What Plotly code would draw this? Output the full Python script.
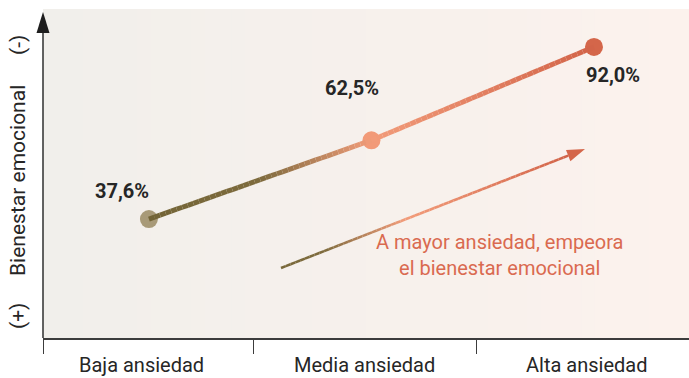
import plotly.graph_objects as go

# Data
categories = ["Baja ansiedad", "Media ansiedad", "Alta ansiedad"]
values = [37.6, 62.5, 92.0]
value_labels = ["37,6%", "62,5%", "92,0%"]
marker_colors = ["#a89a78", "#f29a78", "#d4664a"]

W, H = 689, 378
ML, MR, MT, MB = 43, 0, 9, 40
PW, PH = W - ML - MR, H - MT - MB

X_RANGE = [-0.476, 2.427]
Y_RANGE = [0, 104]

FONT = "Roboto"
TEXT = "#262626"
AXIS = "#3c3c3c"
ACCENT = "#da6a50"

# gradient stops shared by the line and the arrow: olive -> salmon -> coral
STOPS = [(0.0, (0x72, 0x64, 0x36)), (0.25, (0x7e, 0x6b, 0x3d)),
         (0.5, (0xf2, 0x9c, 0x7a)), (1.0, (0xd2, 0x63, 0x48))]


def grad(t):
    for (t0, c0), (t1, c1) in zip(STOPS[:-1], STOPS[1:]):
        if t <= t1:
            f = (t - t0) / (t1 - t0) if t1 > t0 else 0
            return "rgb(%d,%d,%d)" % tuple(round(a + (b - a) * f) for a, b in zip(c0, c1))
    return "rgb(%d,%d,%d)" % STOPS[-1][1]


def px(X):
    return (X - ML) / PW


def py(Y):
    return (MT + PH - Y) / PH


def mix(c0, c1, f):
    return "rgb(%d,%d,%d)" % tuple(round(a + (b - a) * f) for a, b in zip(c0, c1))


shapes = []

# background: soft left-to-right wash behind the plot area
BG_L, BG_R = (0xf1, 0xef, 0xeb), (0xfc, 0xf2, 0xed)
NB = 48
for i in range(NB):
    shapes.append(dict(type="rect", xref="paper", yref="paper",
                       x0=i / NB, x1=(i + 1) / NB + 0.002, y0=0, y1=1,
                       fillcolor=mix(BG_L, BG_R, i / (NB - 1)),
                       line=dict(width=0), layer="below"))


def gradient_polyline(xs, ys, xref, yref, width, steps, t_of):
    out = []
    for (xa, ya), (xb, yb) in zip(zip(xs[:-1], ys[:-1]), zip(xs[1:], ys[1:])):
        for k in range(steps):
            f0, f1 = k / steps, (k + 1) / steps
            x0, y0 = xa + (xb - xa) * f0, ya + (yb - ya) * f0
            x1, y1 = xa + (xb - xa) * f1, ya + (yb - ya) * f1
            out.append(dict(type="line", xref=xref, yref=yref,
                            x0=x0, y0=y0, x1=x1, y1=y1,
                            line=dict(color=grad(t_of((x0 + x1) / 2)), width=width)))
    return out


# main trend line, coloured along its length
xs = list(range(len(categories)))
x_span = xs[-1] - xs[0]
shapes += gradient_polyline(xs, values, "x", "y", 5, 40,
                            lambda x: (x - xs[0]) / x_span)

# explanatory arrow
A0, A1 = (281, 268), (568.2, 155.6)
TIP, B1, B2 = (585, 149), (570.4, 161.2), (566.0, 150.0)
ax0, ax1 = px(A0[0]), px(A1[0])
shapes += gradient_polyline([ax0, ax1], [py(A0[1]), py(A1[1])], "paper", "paper", 2.6, 60,
                            lambda x: 0.12 + 0.88 * (x - ax0) / (ax1 - ax0))
shapes.append(dict(type="path", xref="paper", yref="paper",
                   path="M %f %f L %f %f L %f %f Z" % (px(TIP[0]), py(TIP[1]), px(B1[0]), py(B1[1]),
                                                    px(B2[0]), py(B2[1])),
                   fillcolor="#d4664a", line=dict(width=0)))

# vertical axis with arrowhead
shapes.append(dict(type="line", xref="paper", yref="paper", x0=0, x1=0, y0=0, y1=py(30),
                   line=dict(color=AXIS, width=1.6)))
shapes.append(dict(type="path", xref="paper", yref="paper",
                   path="M %f %f L %f %f L %f %f Z" % (px(43), py(12), px(36.5), py(33), px(49.5), py(33)),
                   fillcolor="#1e1e1e", line=dict(width=0)))

fig = go.Figure()
fig.add_trace(go.Scatter(
    x=xs, y=values, mode="markers",
    marker=dict(size=18, color=marker_colors, line=dict(width=0)),
    hoverinfo="skip", showlegend=False,
))

annotations = []
label_offsets = [(-27, 28), (-19, 52), (19, -28)]
for x, v, lab, (dx, dy) in zip(xs, values, value_labels, label_offsets):
    annotations.append(dict(x=x, y=v, xref="x", yref="y", text="<b>%s</b>" % lab,
                            showarrow=False, xshift=dx, yshift=dy,
                            xanchor="center", yanchor="middle",
                            font=dict(family=FONT, size=20, color=TEXT)))

for x, cat in zip(xs, categories):
    annotations.append(dict(x=x, y=py(365), xref="x", yref="paper", text=cat,
                            showarrow=False, xshift=-7, xanchor="center", yanchor="middle",
                            font=dict(family=FONT, size=20, color=TEXT)))

for text, yy in [("(-)", 45), ("Bienestar emocional", 181), ("(+)", 316)]:
    annotations.append(dict(x=px(18), y=py(yy), xref="paper", yref="paper", text=text,
                            textangle=-90, showarrow=False,
                            xanchor="center", yanchor="middle",
                            font=dict(family=FONT, size=21, color=TEXT)))

annotations.append(dict(x=px(500), y=py(255), xref="paper", yref="paper",
                        text="A mayor ansiedad, empeora<br>el bienestar emocional",
                        showarrow=False, align="center", xanchor="center", yanchor="middle",
                        font=dict(family=FONT, size=20, color=ACCENT)))

fig.update_layout(
    width=W, height=H,
    margin=dict(l=ML, r=MR, t=MT, b=MB),
    paper_bgcolor="white", plot_bgcolor="rgba(0,0,0,0)",
    shapes=shapes, annotations=annotations,
    xaxis=dict(range=X_RANGE, showgrid=False, zeroline=False,
               showline=True, linecolor=AXIS, linewidth=1.6,
               tickvals=[X_RANGE[0], 0.47, 1.47], ticktext=["", "", ""],
               ticks="outside", ticklen=14, tickwidth=1.4, tickcolor=AXIS),
    yaxis=dict(range=Y_RANGE, showgrid=False, zeroline=False,
               showline=False, showticklabels=False, ticks=""),
)

fig.write_html("out.html")
